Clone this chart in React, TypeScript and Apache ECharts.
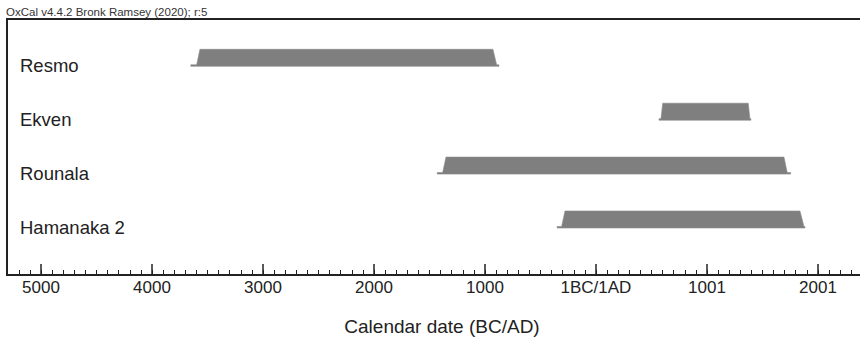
import React, { useEffect, useRef } from "react";
import * as echarts from "echarts";

const names = ["Resmo", "Ekven", "Rounala", "Hamanaka 2"];
// calendar years, 0 = 1BC/1AD boundary, negative = BC
const outerStart = [-3650, 568, -1430, -350];
const rampStart = [-3597, 586, -1381, -309];
const innerStart = [-3568, 601, -1351, -279];
const innerEnd = [-928, 1372, 1694, 1838];
const rampEnd = [-895, 1387, 1723, 1874];
const outerEnd = [-874, 1396, 1754, 1883];

const majorTicks = [-5000, -4000, -3000, -2000, -1000, 0, 1000, 2000];
const minorTicks: number[] = [];
for (let v = -5300; v <= 2500; v += 100) minorTicks.push(v);

const X_MIN = -5306;
const X_MAX = 2532;
const FONT = "'Liberation Sans', Arial, Helvetica, sans-serif";

function fmtYear(v: number): string {
  if (v === 0) return "1BC/1AD";
  if (v < 0) return String(-v);
  return String(v + 1);
}

export default function App() {
  const ref = useRef<HTMLDivElement>(null);
  useEffect(() => {
    document.body.style.margin = "0";
    if (!ref.current) return;
    const chart = echarts.init(ref.current, undefined, { renderer: "svg" });
    const data = names.map((n, i) => [
      i,
      outerStart[i],
      rampStart[i],
      innerStart[i],
      innerEnd[i],
      rampEnd[i],
      outerEnd[i],
    ]);
    chart.setOption({
      animation: false,
      title: {
        text: "OxCal v4.4.2 Bronk Ramsey (2020); r:5",
        left: 6,
        top: 6,
        padding: 0,
        textStyle: { fontSize: 11.5, fontWeight: "normal", color: "#333", fontFamily: FONT },
      },
      grid: {
        left: 7,
        top: 19,
        width: 870,
        height: 256,
        outerBoundsMode: "none",
        containLabel: false,
        show: true,
        borderWidth: 2,
        borderColor: "#222",
        backgroundColor: "#fff",
      },
      xAxis: [
        {
          type: "value",
          min: X_MIN,
          max: X_MAX,
          position: "bottom",
          name: "Calendar date (BC/AD)",
          nameLocation: "middle",
          nameGap: 42,
          nameTextStyle: { fontSize: 19, color: "#222", fontFamily: FONT },
          splitLine: { show: false },
          axisLine: { show: true, onZero: false, lineStyle: { color: "#222", width: 2 } },
          axisTick: {
            show: true,
            inside: true,
            length: 11,
            customValues: majorTicks,
            lineStyle: { color: "#222", width: 1.5 },
          },
          axisLabel: {
            show: true,
            customValues: majorTicks,
            margin: 4,
            fontSize: 17,
            color: "#222",
            fontFamily: FONT,
            formatter: (v: number) => fmtYear(v),
          },
        },
        {
          type: "value",
          min: X_MIN,
          max: X_MAX,
          position: "bottom",
          splitLine: { show: false },
          axisLine: { show: false, onZero: false },
          axisLabel: { show: false },
          axisTick: {
            show: true,
            inside: true,
            length: 5,
            customValues: minorTicks,
            lineStyle: { color: "#222", width: 1 },
          },
        },
      ],
      yAxis: {
        type: "value",
        min: -0.72,
        max: 4.03,
        inverse: true,
        show: false,
      },
      series: [
        {
          type: "custom",
          xAxisIndex: 0,
          yAxisIndex: 0,
          data,
          encode: { x: [1, 6], y: 0 },
          renderItem: (params: any, api: any) => {
            const row = api.value(0);
            const half = 8.5;
            const tail = 1.5;
            const pA = api.coord([api.value(1), row]);
            const pB = api.coord([api.value(2), row]);
            const pC = api.coord([api.value(3), row]);
            const pD = api.coord([api.value(4), row]);
            const pE = api.coord([api.value(5), row]);
            const pF = api.coord([api.value(6), row]);
            const cy = pA[1];
            const top = cy - half;
            const bot = cy + half;
            return {
              type: "group",
              children: [
                {
                  type: "polygon",
                  shape: {
                    points: [
                      [pA[0], bot],
                      [pA[0], bot - tail],
                      [pB[0], bot - tail],
                      [pC[0], top],
                      [pD[0], top],
                      [pE[0], bot - tail],
                      [pF[0], bot - tail],
                      [pF[0], bot],
                    ],
                  },
                  style: { fill: "#7f7f7f", stroke: "#8a8a8a", lineWidth: 0.6 },
                },
                {
                  type: "text",
                  x: params.coordSys.x + 13,
                  y: cy + 8,
                  style: {
                    text: names[row],
                    fontSize: 18.5,
                    fontFamily: FONT,
                    fill: "#222",
                    align: "left",
                    verticalAlign: "middle",
                  },
                },
              ],
            };
          },
        },
      ],
    });
    return () => chart.dispose();
  }, []);
  return <div ref={ref} style={{ width: 860, height: 338 }} />;
}
